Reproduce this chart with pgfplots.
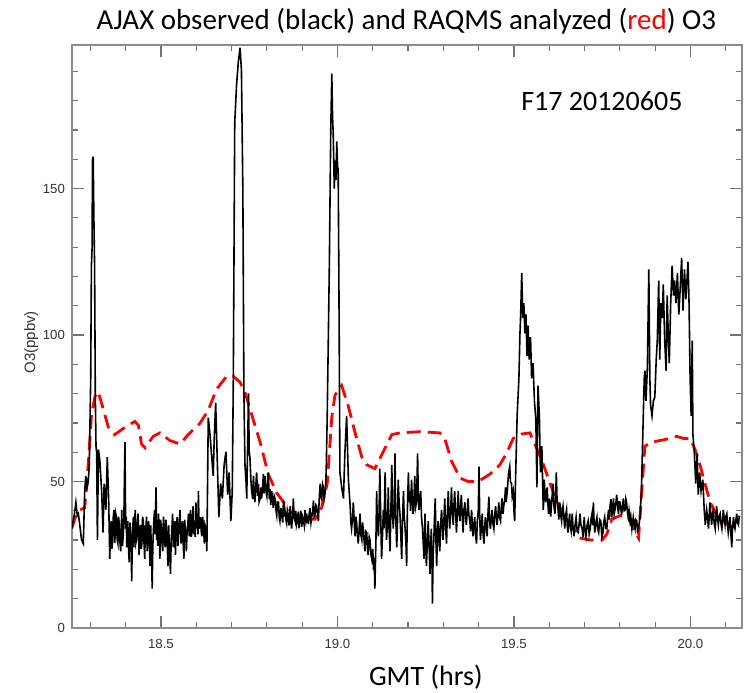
\documentclass[border=0pt]{standalone}
\usepackage{fontspec}
\setmainfont{Carlito}
\newfontfamily\tickfont{Liberation Sans}
\usepackage{pgfplots}
\pgfplotsset{compat=1.18}

\begin{document}
\begin{tikzpicture}
\begin{axis}[
  name=ax, scale only axis, width=335pt, height=291.5pt,
  xmin=18.248, xmax=20.146, ymin=0, ymax=199,
  xtick={18.5,19.0,19.5,20.0}, xticklabels={18.5,19.0,19.5,20.0},
  minor xtick={18.3,18.4,18.6,18.7,18.8,18.9,19.1,19.2,19.3,19.4,19.6,19.7,19.8,19.9,20.1},
  ytick={0,50,100,150}, yticklabels={0,50,100,150},
  minor ytick={10,20,30,40,60,70,80,90,110,120,130,140,160,170,180,190},
  major tick length=6pt, minor tick length=3pt,
  axis line style={black!45, line width=0.8pt},
  every tick/.style={black!55, line width=0.6pt},
  /pgf/number format/assume math mode=true,
  tick label style={font=\tickfont\fontsize{6.6}{7}\selectfont, text=black!80},
  xticklabel style={yshift=-2pt},
  clip mode=individual,
]
% RAQMS analyzed (red dashed)
\addplot[red, line width=1.4pt, dash pattern=on 7pt off 3.5pt] coordinates {
 (18.247,33.9) (18.258,38) (18.270,40.3) (18.284,41) (18.294,55.7) (18.303,72.4)
 (18.313,79) (18.322,80.7) (18.336,75) (18.351,68.5) (18.369,66) (18.398,68.5)
 (18.426,70.5) (18.436,69.2) (18.445,62.8) (18.455,61.5) (18.478,65.4) (18.497,66.6)
 (18.525,64) (18.554,62.8) (18.577,66) (18.610,69.8) (18.634,74.3) (18.657,81.4)
 (18.686,85.9) (18.705,85.9) (18.724,83.9) (18.738,80.5) (18.752,74.8) (18.781,63.4)
 (18.804,52.5) (18.828,46.1) (18.856,41.6) (18.885,37.1) (18.908,37.1) (18.936,37.1)
 (18.955,41) (18.971,49.3) (18.984,72) (18.993,79.5) (19.012,82.7) (19.031,75.6)
 (19.050,66.6) (19.069,58.3) (19.083,55.7) (19.106,54.4) (19.130,60.2) (19.154,66)
 (19.177,66.6) (19.234,67) (19.290,66.6) (19.304,64.7) (19.323,57) (19.347,51.2)
 (19.370,50) (19.399,50) (19.432,52.5) (19.460,55.7) (19.479,59.6) (19.498,64.7)
 (19.521,66.2) (19.545,66.6) (19.559,62.8) (19.578,57.6) (19.597,51.2) (19.616,44.8)
 (19.639,39) (19.668,33.9) (19.687,30.7) (19.716,30) (19.749,30) (19.763,32)
 (19.777,37.1) (19.801,38.4) (19.824,37.8) (19.838,33.9) (19.853,30.7) (19.862,46.7)
 (19.871,62.1) (19.890,63.4) (19.914,64) (19.942,64.7) (19.961,65.4) (19.980,64.7)
 (19.999,64.7) (20.013,60.9) (20.027,55.7) (20.041,49.3) (20.056,42.9) (20.074,38.4)
 (20.098,35.9) (20.117,34.6) (20.141,34.6)};
% AJAX observed (black)
\addplot[black, line width=0.8pt] coordinates {
 (18.247,33.9) (18.251,36.5) (18.255,39.0) (18.259,42.9) (18.263,38.4) (18.266,39.0)
 (18.270,35.2) (18.275,30.1) (18.280,28.8) (18.284,46.7) (18.287,51.9) (18.291,48.0)
 (18.294,49.9) (18.297,55.7) (18.301,85.2) (18.303,123.7) (18.305,130.0) (18.306,159.6)
 (18.308,160.9) (18.310,140.0) (18.312,123.7) (18.314,80.0) (18.316,62.1) (18.318,59.6)
 (18.320,30.1) (18.323,60.9) (18.327,57.0) (18.332,46.7) (18.336,32.6) (18.339,49.3)
 (18.344,40.3) (18.348,58.3) (18.352,42.9) (18.355,23.6)
 (18.357,34) (18.359,36.5) (18.361,27) (18.363,30.1) (18.365,38) (18.367,40.3)
 (18.369,29) (18.370,31.3) (18.372,39) (18.374,37.8) (18.376,30) (18.378,28.8)
 (18.380,38) (18.382,35.2) (18.384,29) (18.386,26.2) (18.388,35) (18.389,40.3)
 (18.391,28) (18.393,31.3) (18.395,37) (18.396,46.7) (18.398,63.4) (18.400,33.9)
 (18.402,38) (18.403,27.5) (18.405,33) (18.406,36.5) (18.408,28) (18.410,22.4)
 (18.412,36) (18.414,32.6) (18.416,26) (18.417,15.9) (18.419,30) (18.420,33.9)
 (18.422,38) (18.423,27.5) (18.425,34) (18.427,40.3) (18.429,29) (18.431,30.1)
 (18.433,36) (18.435,39.0) (18.437,31) (18.438,24.9) (18.440,33) (18.442,35.2)
 (18.444,27) (18.446,28.8) (18.448,38) (18.450,36.5) (18.452,29) (18.454,23.6)
 (18.456,35) (18.457,32.6) (18.459,38) (18.461,26.2) (18.463,31) (18.465,36.5)
 (18.467,30) (18.469,21.1) (18.471,35) (18.472,30.1) (18.474,24) (18.475,13.4)
 (18.477,28) (18.478,31.3) (18.480,37) (18.482,40.3) (18.484,32) (18.486,48.0)
 (18.488,30) (18.489,33.9) (18.491,28) (18.493,39.0) (18.495,33) (18.497,23.6)
 (18.499,37) (18.501,33.9) (18.503,29) (18.505,26.2) (18.507,38) (18.508,36.5)
 (18.510,30) (18.512,27.5) (18.514,37) (18.516,33.9) (18.518,28) (18.520,21.1)
 (18.522,35) (18.523,30.1) (18.525,25) (18.527,18.5) (18.529,30) (18.531,33.9)
 (18.533,39) (18.535,27.5) (18.537,32) (18.539,36.5) (18.541,25) (18.542,28.8)
 (18.544,35) (18.546,37.8) (18.548,28) (18.550,31.3) (18.552,36) (18.554,40.3)
 (18.556,33) (18.557,28.8) (18.559,32) (18.561,36.5) (18.563,29) (18.565,23.6)
 (18.567,37) (18.569,33.9) (18.571,30) (18.572,26.2) (18.574,33) (18.576,35.2)
 (18.578,39) (18.580,31.3) (18.582,35) (18.584,40.3) (18.586,31) (18.588,33.9)
 (18.590,38) (18.591,41.6) (18.593,32) (18.595,35.2) (18.597,31) (18.599,42.9)
 (18.601,34) (18.603,36.5) (18.605,32) (18.606,46.7) (18.608,33.9) (18.610,36)
 (18.612,37.8) (18.614,33) (18.616,31.3) (18.618,38) (18.620,35.2) (18.622,31)
 (18.623,28.8) (18.625,35) (18.627,33.9) (18.629,30) (18.630,26.2)
 (18.634,71.8) (18.639,66.0) (18.643,59.6) (18.648,51.9) (18.651,65.0) (18.655,76.9)
 (18.659,59.6) (18.664,37.8) (18.669,49.3) (18.674,44.2) (18.679,55.7) (18.684,60.2)
 (18.689,45.5) (18.693,53.1) (18.698,36.5) (18.702,46.7) (18.705,85.2) (18.709,172.5)
 (18.714,185.0) (18.719,193.0) (18.724,198.1) (18.728,190.4) (18.732,149.4) (18.735,80.1)
 (18.738,55.7) (18.741,50) (18.743,44.2) (18.748,80.1) (18.750,60.0) (18.752,58.3)
 (18.755,50) (18.757,46.7) (18.760,44) (18.762,51.9) (18.764,47) (18.766,42.9)
 (18.769,49) (18.771,53.1) (18.774,45) (18.776,49.3) (18.778,43) (18.781,44.2)
 (18.783,48) (18.785,44.2) (18.788,48) (18.790,52.5) (18.792,46) (18.795,51.9)
 (18.797,47) (18.800,45.0) (18.802,49) (18.804,53.1) (18.807,44) (18.809,47.5)
 (18.811,42) (18.814,46.7) (18.816,44) (18.818,41.0) (18.821,45) (18.823,44.2)
 (18.826,40) (18.828,38.4) (18.830,43) (18.833,42.9) (18.835,38) (18.837,36.5)
 (18.840,41) (18.842,39.0) (18.845,36) (18.847,43.5) (18.849,38) (18.851,40.3)
 (18.854,37) (18.856,35.8) (18.858,40) (18.861,37.8) (18.863,35) (18.866,41.6)
 (18.868,37) (18.870,33.9) (18.873,38) (18.875,44.2) (18.877,38) (18.880,36.5)
 (18.882,40) (18.884,35.2) (18.887,37) (18.889,39.7) (18.891,34) (18.894,37.1)
 (18.896,40) (18.899,34.5) (18.901,38) (18.903,37.1) (18.906,35) (18.908,40.3)
 (18.911,37) (18.913,39.0) (18.915,36) (18.918,35.8) (18.920,39) (18.922,40.9)
 (18.925,36) (18.927,37.8) (18.930,40) (18.932,43.5) (18.934,38) (18.936,38.4)
 (18.939,42) (18.941,41.6) (18.944,38) (18.946,36.5) (18.948,43) (18.951,49.3)
 (18.953,45) (18.955,44.2) (18.958,49) (18.960,48.0) (18.962,44) (18.965,46.1)
 (18.968,53.1) (18.971,72.4) (18.974,98.0) (18.977,123.7)
 (18.981,170.0) (18.984,189.2) (18.986,175.0) (18.988,168.6) (18.991,150.0) (18.993,159.6)
 (18.996,153.0) (18.998,166.1) (19.001,155.0) (19.002,157.1) (19.004,120.0) (19.005,98.1)
 (19.007,53.1) (19.012,48.0) (19.017,44.2) (19.021,59.6) (19.026,72.4) (19.031,50.6)
 (19.036,41.6) (19.038,36) (19.040,33.9) (19.043,38) (19.045,42.9) (19.048,35)
 (19.050,31.3) (19.052,38) (19.054,36.5) (19.057,31) (19.059,28.8) (19.062,35)
 (19.064,39.0) (19.066,32) (19.069,30.1) (19.071,36) (19.073,33.9) (19.076,29)
 (19.078,26.2) (19.080,33) (19.083,32.6) (19.085,27) (19.087,24.9) (19.090,31)
 (19.092,30.1) (19.095,25) (19.097,23.6) (19.100,27) (19.102,19.8) (19.104,24)
 (19.106,13.4) (19.109,30) (19.111,46.7) (19.113,36) (19.116,31.3) (19.118,40)
 (19.120,54.4) (19.123,35) (19.125,23.6) (19.128,33) (19.130,40.3) (19.132,34)
 (19.135,53.1) (19.137,38) (19.139,30.1) (19.142,36) (19.144,48.0) (19.146,35)
 (19.149,26.2) (19.151,38) (19.154,55.7) (19.156,40) (19.158,33.9) (19.161,42)
 (19.163,59.6) (19.165,38) (19.168,27.5) (19.170,36) (19.172,50.6) (19.175,42)
 (19.177,39.0) (19.180,30) (19.182,23.6) (19.184,36) (19.187,46.7) (19.189,38)
 (19.191,35.2) (19.194,29) (19.196,21.1) (19.198,40) (19.201,53.1) (19.203,43)
 (19.205,46.7) (19.207,40) (19.210,50.6) (19.212,44) (19.214,39.0) (19.217,45)
 (19.219,51.9) (19.221,41) (19.224,42.9) (19.227,59.6) (19.229,45) (19.231,40.3)
 (19.233,44) (19.236,46.7) (19.238,38) (19.241,33.9) (19.243,29) (19.245,23.6)
 (19.247,33) (19.248,39.0) (19.250,28) (19.252,21.1) (19.255,30) (19.257,36.5)
 (19.260,27) (19.262,18.5) (19.264,28) (19.266,33.9) (19.268,20) (19.269,8.3)
 (19.271,25) (19.273,30.1) (19.275,38) (19.277,44.2) (19.279,30) (19.281,21.1)
 (19.283,30) (19.285,36.5) (19.288,30) (19.290,26.2) (19.292,35) (19.295,40.3)
 (19.297,34) (19.299,30.1) (19.302,38) (19.304,44.2) (19.306,35) (19.309,28.8)
 (19.311,38) (19.314,46.7) (19.316,38) (19.318,33.9) (19.321,41) (19.323,48.0)
 (19.325,40) (19.328,35.2) (19.330,42) (19.332,46.7) (19.335,39) (19.337,32.6)
 (19.340,40) (19.342,46.7) (19.344,40) (19.347,36.5) (19.349,42) (19.351,45.5)
 (19.354,37) (19.356,32.6) (19.358,40) (19.361,42.9) (19.363,38) (19.365,35.2)
 (19.368,40) (19.370,44.2) (19.372,39) (19.375,36.5) (19.377,33) (19.380,40.3)
 (19.382,35) (19.384,31.3) (19.387,36) (19.389,37.8) (19.391,32) (19.394,28.8)
 (19.396,36) (19.399,40.3) (19.401,55.1) (19.403,38) (19.405,30.1) (19.408,35)
 (19.410,39.0) (19.412,33) (19.415,28.8) (19.417,34) (19.419,37.8) (19.422,34)
 (19.424,31.3) (19.426,38) (19.429,44.8) (19.431,37) (19.433,33.9) (19.436,37)
 (19.438,40.3) (19.440,36) (19.443,33.9) (19.445,38) (19.448,41.6) (19.450,38)
 (19.452,35.2) (19.455,39) (19.457,42.9) (19.459,38) (19.462,36.5) (19.464,41)
 (19.466,44.2) (19.469,39) (19.471,41.6) (19.474,44) (19.476,48.0) (19.478,43)
 (19.481,46.7) (19.483,50) (19.485,53.1) (19.488,55.1) (19.490,50) (19.493,49.3)
 (19.495,45) (19.498,46.7) (19.500,40) (19.502,36.5)
 (19.505,53.1) (19.509,72.4) (19.514,85.2) (19.517,100.6) (19.519,107.0)
 (19.522,121.2) (19.525,105.8) (19.528,110.9) (19.531,100.6) (19.534,107.0) (19.537,92.9)
 (19.540,103.2) (19.543,91.6) (19.547,99.3) (19.550,85.2) (19.554,90.4) (19.558,77.5)
 (19.562,71.1) (19.565,48.0) (19.568,82.7) (19.572,72.4) (19.575,53.1) (19.579,62.1)
 (19.583,40.3) (19.585,46) (19.586,50.6) (19.588,45) (19.590,42.9) (19.592,46)
 (19.594,48.0) (19.596,43) (19.598,39.0) (19.600,42) (19.601,44.2) (19.604,38)
 (19.606,41.6) (19.608,45) (19.611,49.3) (19.613,42) (19.616,39.0) (19.618,44)
 (19.620,53.1) (19.622,44) (19.625,40.3) (19.627,37) (19.630,42.9) (19.632,39)
 (19.635,36.5) (19.637,40) (19.639,41.6) (19.642,37) (19.644,33.9) (19.646,38)
 (19.649,40.3) (19.651,35) (19.653,32.6) (19.656,37) (19.658,39.0) (19.659,35.2)
 (19.662,33) (19.665,39.0) (19.667,35) (19.670,31.3) (19.673,35) (19.676,37.8)
 (19.679,33) (19.682,32.6) (19.685,36) (19.687,39.0) (19.690,35) (19.693,33.9)
 (19.696,31) (19.699,37.8) (19.701,34) (19.704,31.3) (19.707,35) (19.710,36.5)
 (19.713,32) (19.716,33.9) (19.718,37) (19.721,39.0) (19.723,35) (19.725,42.9)
 (19.727,36) (19.729,32.6) (19.732,36) (19.735,37.8) (19.737,34) (19.740,32.6)
 (19.743,37) (19.746,36.5) (19.749,31) (19.752,32.6) (19.754,36) (19.757,37.8)
 (19.760,34) (19.763,33.9) (19.765,37) (19.768,40.3) (19.770,37) (19.772,41.6)
 (19.775,44) (19.777,37.8) (19.780,41) (19.782,44.2) (19.784,39) (19.786,40.3)
 (19.789,43) (19.791,45.5) (19.794,41) (19.796,39.0) (19.798,43) (19.801,42.9)
 (19.803,40) (19.805,39.0) (19.808,42) (19.810,44.2) (19.812,40) (19.815,40.3)
 (19.817,44) (19.819,42.9) (19.822,39) (19.824,37.8) (19.826,40) (19.829,36.5)
 (19.831,38) (19.834,33.9) (19.836,36) (19.838,37.8) (19.841,35) (19.843,33.9)
 (19.845,37) (19.848,36.5) (19.850,33) (19.853,33.9) (19.855,36) (19.857,37.8)
 (19.861,46.7) (19.865,66.0)
 (19.869,85.2) (19.871,87.8) (19.874,77.5) (19.878,89.1) (19.882,122.4) (19.885,85.2)
 (19.887,76.2) (19.891,72.4) (19.895,77.5) (19.899,78.8) (19.903,91.6) (19.906,98.1)
 (19.910,118.6) (19.913,91.6) (19.916,110.9) (19.920,105.8) (19.923,117.3) (19.927,98.1)
 (19.931,87.8) (19.934,113.5) (19.937,100.6) (19.940,90.4) (19.944,110.9) (19.948,123.7)
 (19.952,113.5) (19.955,118.6) (19.959,110.9) (19.963,121.2) (19.967,107.0) (19.971,116.0)
 (19.975,126.3) (19.979,108.3) (19.983,122.4) (19.987,112.2) (19.990,118.6) (19.993,125.0)
 (19.996,110.9) (19.999,85.2) (20.002,72.4) (20.005,98.1) (20.007,66.0) (20.011,59.6)
 (20.015,49.3) (20.019,59.6) (20.022,45.5) (20.026,53.1) (20.030,46.7) (20.035,50.6)
 (20.039,40.3) (20.041,37) (20.042,35.2) (20.044,38) (20.046,40.3) (20.049,37)
 (20.051,33.9) (20.053,38) (20.055,42.9) (20.058,38) (20.060,35.2) (20.062,39)
 (20.065,40.3) (20.067,36) (20.070,33.9) (20.072,37) (20.074,41.6) (20.077,37)
 (20.079,35.2) (20.081,38) (20.084,39.0) (20.086,36) (20.089,33.9) (20.091,37)
 (20.093,40.3) (20.096,37) (20.098,35.2) (20.100,38) (20.103,39.0) (20.105,35)
 (20.107,32.6) (20.110,36) (20.112,37.8) (20.114,33) (20.117,27.5) (20.119,34)
 (20.122,37.8) (20.124,35) (20.126,33.9) (20.129,37) (20.131,39.0) (20.133,36)
 (20.136,35.2) (20.138,38) (20.140,37.8)};
\node[font=\fontsize{14}{16}\selectfont] at (axis cs:19.749,180) {F17 20120605};
\node[font=\fontsize{14.5}{16}\selectfont] at (rel axis cs:0.499,1.040)
  {AJAX observed (black) and RAQMS analyzed (\textcolor{red}{red}) O3};
\node[font=\fontsize{14}{16}\selectfont] at (rel axis cs:0.528,-0.084) {GMT (hrs)};
\node[rotate=90, font=\tickfont\fontsize{7.5}{8}\selectfont, text=black!80]
  at (rel axis cs:-0.061,0.49) {O3(ppbv)};
\end{axis}
\pgfresetboundingbox
\path[use as bounding box] ([xshift=-36pt,yshift=-32.5pt]ax.south west)
  rectangle ([xshift=4pt,yshift=22.5pt]ax.north east);
\end{tikzpicture}
\end{document}
